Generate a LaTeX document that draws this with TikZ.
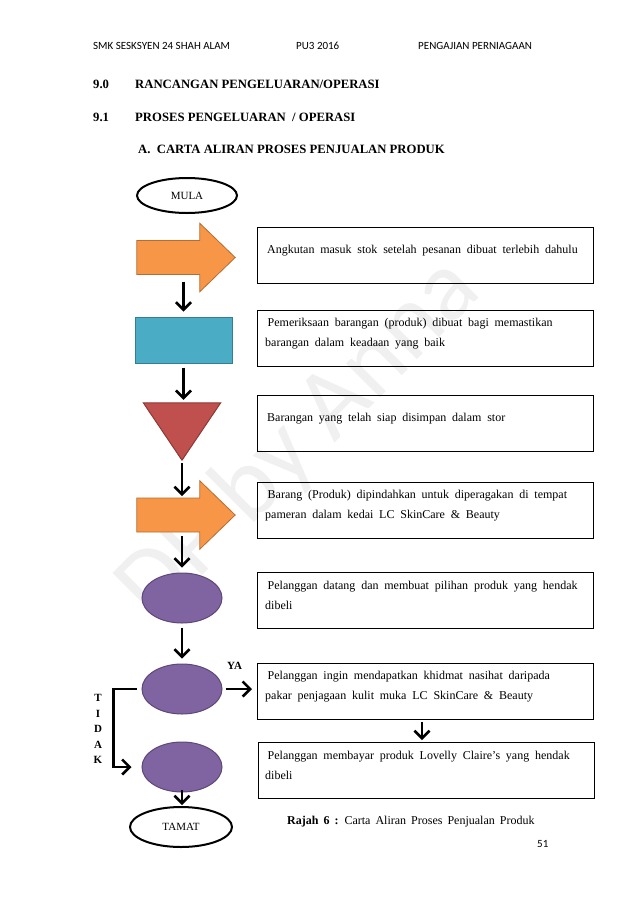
\documentclass[tikz,border=0pt]{standalone}
\usepackage{fontspec}
\setmainfont{Liberation Serif}
\newfontfamily\hdrfont{Carlito}
\usetikzlibrary{arrows.meta,shapes.geometric,calc}
\definecolor{orF}{HTML}{F79646}
\definecolor{orD}{HTML}{B66D31}
\definecolor{blF}{HTML}{4BACC6}
\definecolor{blD}{HTML}{357D91}
\definecolor{rdF}{HTML}{C0504D}
\definecolor{rdD}{HTML}{8C3836}
\definecolor{puF}{HTML}{8064A2}
\definecolor{puD}{HTML}{5C4776}
\definecolor{wmark}{HTML}{F0F0F0}
\newcommand\widesp{\spaceskip=5pt plus 1pt minus 0.5pt\relax}
\newcommand\bx{\spaceskip=5.8pt plus 1pt minus 0.5pt\relax}
\newcommand\bodyfont{\fontsize{12}{20}\selectfont}
\newcommand\capfont{\fontsize{12}{14}\selectfont\widesp}
\begin{document}
\begin{tikzpicture}[x=1pt,y=-1pt,
  arr/.style={line width=2.7pt,-{Straight Barb[length=7.5pt,width=15pt,line width=2.6pt]}},
  txtbox/.style={draw,line width=1.1pt,minimum width=336pt,minimum height=56pt,inner sep=0pt,anchor=north west},
  boxtxt/.style={anchor=west,align=left,text width=330pt,inner sep=0pt,font=\bodyfont},
  term/.style={ellipse,draw,line width=2pt,inner sep=0pt,font=\fontsize{11}{13}\selectfont},
  purp/.style={ellipse,draw=puD,line width=1pt,fill=puF,minimum width=80pt,minimum height=50pt,inner sep=0pt},
  orbox/.style={inner sep=0pt,minimum width=98pt,minimum height=68pt},
  orfill/.style={draw=orD,line width=0.8pt,fill=orF,line join=miter},
  head/.style={anchor=base west,inner sep=0pt,font=\fontsize{12.7}{15}\selectfont\bfseries},
  hdr/.style={anchor=base west,inner sep=0pt,font=\hdrfont\fontsize{11}{13}\selectfont},
]
\useasboundingbox (0,0) rectangle (638,903);
\fill[white] (0,0) rectangle (638,903);
\node[rotate=45,text=wmark,font=\hdrfont\fontsize{100}{100}\selectfont] (wm) at (300,440) {DP by Anna};

% header
\node[hdr] (h1) at (93,49) {SMK SESKSYEN 24 SHAH ALAM};
\node[hdr] (h2) at (296,49) {PU3 2016};
\node[hdr] (h3) at (418,49) {PENGAJIAN PERNIAGAAN};

% headings
\node[head] (n90) at (93,88) {9.0};
\node[head] (t90) at (135,88) {RANCANGAN PENGELUARAN/OPERASI};
\node[head] (n91) at (93,121) {9.1};
\node[head] (t91) at (135,121) {PROSES PENGELUARAN\ \ / OPERASI};
\node[head] (tA) at (138,153) {A.\ \ CARTA ALIRAN PROSES PENJUALAN PRODUK};

% symbols
\node[term,minimum width=100pt,minimum height=35pt] (mula) at (187,195.5) {MULA};
\node[orbox] (oa1) at (186,257.5) {};
\filldraw[orfill] ($(oa1.west)+(0,-17)$) -- ($(oa1.west)+(63,-17)$) -- ($(oa1.north west)+(63,0)$) -- (oa1.east) -- ($(oa1.south west)+(63,0)$) -- ($(oa1.west)+(63,17)$) -- ($(oa1.west)+(0,17)$) -- cycle;
\node[draw=blD,fill=blF,line width=1pt,minimum width=97pt,minimum height=46pt,inner sep=0pt] (blue) at (183.5,340) {};
\node[inner sep=0pt,minimum width=77pt,minimum height=57pt] (tri) at (182,431.5) {};
\filldraw[draw=rdD,fill=rdF,line width=1pt] (tri.north west) -- (tri.north east) -- (tri.south) -- cycle;
\node[orbox] (oa2) at (186,515) {};
\filldraw[orfill] ($(oa2.west)+(0,-17)$) -- ($(oa2.west)+(63,-17)$) -- ($(oa2.north west)+(63,0)$) -- (oa2.east) -- ($(oa2.south west)+(63,0)$) -- ($(oa2.west)+(63,17)$) -- ($(oa2.west)+(0,17)$) -- cycle;
\node[purp] (e1) at (182,598) {};
\node[purp] (e2) at (182,689) {};
\node[purp] (e3) at (182,767) {};
\node[term,minimum width=102pt,minimum height=40pt] (tamat) at (181,827) {TAMAT};

% boxes
\node[txtbox] (b1) at (257,227) {};
\node[txtbox] (b2) at (257,310) {};
\node[txtbox] (b3) at (257,395) {};
\node[txtbox] (b4) at (257,482) {};
\node[txtbox] (b5) at (257,572) {};
\node[txtbox] (b6) at (257,663) {};
\node[txtbox] (b7) at (258,742) {};

\node[boxtxt] (t1) at ($(b1.west)+(10,-5)$) {\bx Angkutan masuk stok setelah pesanan dibuat terlebih dahulu};
\node[boxtxt] (t2) at ($(b2.west)+(8,-5)$) {\bx\hspace*{2.5pt}Pemeriksaan barangan (produk) dibuat bagi memastikan\\barangan dalam keadaan yang baik};
\node[boxtxt] (t3) at ($(b3.west)+(10,-5)$) {\bx Barangan yang telah siap disimpan dalam stor};
\node[boxtxt] (t4) at ($(b4.west)+(8,-5)$) {\bx\hspace*{2.5pt}Barang (Produk) dipindahkan untuk diperagakan di tempat\\pameran dalam kedai LC SkinCare \& Beauty};
\node[boxtxt] (t5) at ($(b5.west)+(8,-5)$) {\bx\hspace*{2.5pt}Pelanggan datang dan membuat pilihan produk yang hendak\\dibeli};
\node[boxtxt] (t6) at ($(b6.west)+(8,-5)$) {\bx\hspace*{2.5pt}Pelanggan ingin mendapatkan khidmat nasihat daripada\\pakar penjagaan kulit muka LC SkinCare \& Beauty};
\node[boxtxt] (t7) at ($(b7.west)+(7,-5)$) {\bx\hspace*{2.5pt}Pelanggan membayar produk Lovelly Claire’s yang hendak\\dibeli};

% connectors
\draw[arr] ($(blue.north |- oa1.center)+(0,24)$) -- ($(blue.north)+(0,-5)$);
\draw[arr] ($(blue.south)+(0,4)$) -- ($(blue.south |- tri.north)+(0,-3)$);
\draw[arr] ($(tri.south)+(0,3)$) -- ($(tri.south |- oa2.center)+(0,-19)$);
\draw[arr] ($(e1.north |- oa2.center)+(0,21)$) -- ($(e1.north)+(0,-5)$);
\draw[arr] ($(e1.south)+(0,4)$) -- ($(e2.north)+(0,-5)$);
\draw[arr] ($(e3.south)+(0,-3)$) -- ($(e3.south |- tamat.north)+(0,-1)$);
\draw[arr] ($(e2.east)+(3,0)$) -- ($(b6.west |- e2.east)+(-5,0)$);
\draw[arr] ($(e2.west)+(-5,0)$) -- ++(-23,0) |- ($(e3.west)+(-10,0)$);
\draw[arr] ($(b6.south west)+(165,2)$) -- ($(b7.north west)+(164,-2)$);

\node[anchor=base west,inner sep=0pt,font=\bfseries\fontsize{11}{13}\selectfont] (ya) at (227,669) {YA};
\node[align=center,inner sep=0pt,font=\bfseries\fontsize{11}{15.5}\selectfont] (tidak) at (98,729) {T\\I\\D\\A\\K};

\node[anchor=base west,inner sep=0pt,font=\capfont] (cap) at (287,824) {\textbf{Rajah 6 :} Carta Aliran Proses Penjualan Produk};
\node[hdr] (pg) at (537,847) {51};
\end{tikzpicture}
\end{document}
